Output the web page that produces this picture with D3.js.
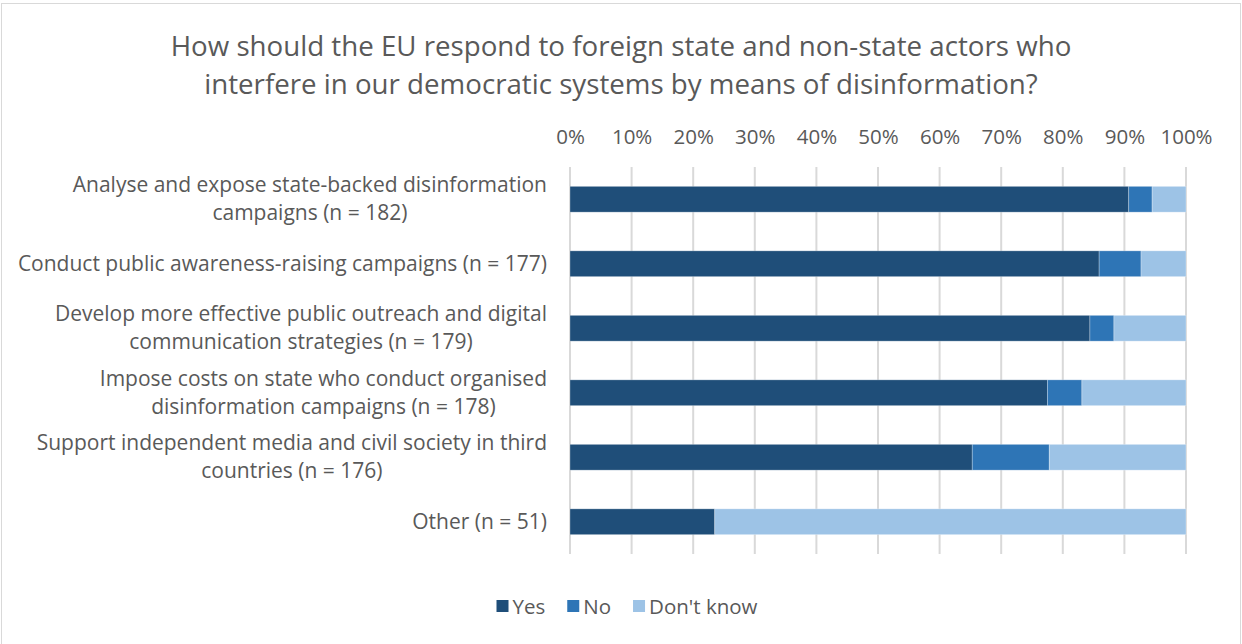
<!DOCTYPE html>
<html><head><meta charset="utf-8">
<script src="https://cdn.jsdelivr.net/npm/d3@7"></script>
<style>body{margin:0;background:#fff}svg{display:block}text{font-family:"Open Sans",sans-serif;fill:#595959}</style>
</head><body>
<svg id="c" width="1242" height="644"></svg>
<script>
const categories = [
  ["Analyse and expose state-backed disinformation", "campaigns (n = 182)"],
  ["Conduct public awareness-raising campaigns (n = 177)"],
  ["Develop more effective public outreach and digital", "communication strategies (n = 179)"],
  ["Impose costs on state who conduct organised", "disinformation campaigns (n = 178)"],
  ["Support independent media and civil society in third", "countries (n = 176)"],
  ["Other (n = 51)"]
];
const seriesNames = ["Yes", "No", "Don't know"];
const yes = [90.7, 85.9, 84.4, 77.5, 65.3, 23.5];
const no = [3.8, 6.8, 3.9, 5.6, 12.5, 0];
const dontKnow = [5.5, 7.3, 11.7, 16.9, 22.2, 76.5];
const tickValues = [0,10,20,30,40,50,60,70,80,90,100];
const colors = ["#1f4e79", "#2e75b6", "#9dc3e6"];
const FONT = "'Open Sans',sans-serif";
const FS = 20.5;
const LFS = 21;

const svg = d3.select("#c");
svg.append("rect").attr("x",1.5).attr("y",3.5).attr("width",1239).attr("height",660)
  .attr("fill","#fff").attr("stroke","#d9d9d9");

svg.append("text").attr("x",621).attr("y",56).attr("text-anchor","middle").attr("font-size",27.7)
  .text("How should the EU respond to foreign state and non-state actors who");
svg.append("text").attr("x",621).attr("y",94).attr("text-anchor","middle").attr("font-size",27.7)
  .text("interfere in our democratic systems by means of disinformation?");

const x = d3.scaleLinear().domain([0,100]).range([570,1186]);
const y = d3.scaleBand().domain(d3.range(categories.length)).range([167,554]).paddingInner(0.6).paddingOuter(0.3);

const grid = svg.append("g");
grid.selectAll("line").data(tickValues).join("line")
  .attr("x1",d=>x(d)).attr("x2",d=>x(d)).attr("y1",167).attr("y2",554)
  .attr("stroke","#d9d9d9").attr("stroke-width",2);

const xAxis = svg.append("g").attr("transform","translate(0,144)")
  .call(d3.axisTop(x).tickValues(tickValues).tickFormat(d=>d+"%").tickSize(0).tickPadding(0));
xAxis.select(".domain").remove();
xAxis.selectAll("text").attr("font-size",FS).attr("fill","#595959").style("font-family",FONT);

const data = categories.map((c,i)=>({i, Yes:yes[i], No:no[i], "Don't know":dontKnow[i]}));
const stack = d3.stack().keys(seriesNames)(data);
svg.append("g").selectAll("g").data(stack).join("g").attr("fill",(d,k)=>colors[k])
  .selectAll("rect").data(d=>d).join("rect")
  .attr("x",d=>x(d[0])).attr("width",d=>Math.max(0,x(d[1])-x(d[0])))
  .attr("y",(d,i)=>y(i)).attr("height",y.bandwidth())
  .attr("stroke","#fff").attr("stroke-opacity",0.35).attr("stroke-width",0.8);

const lab = svg.append("g");
categories.forEach((lines,i)=>{
  const cy = y(i)+y.bandwidth()/2;
  const g = lab.append("g");
  const ts = lines.map((t,j)=>g.append("text").attr("font-size",LFS).attr("text-anchor","middle")
    .attr("y", cy + (j-(lines.length-1)/2)*28 + 7).text(t));
  const w = d3.max(ts, t=>t.node().getComputedTextLength());
  ts.forEach(t=>t.attr("x", 547 - w/2));
});

const leg = svg.append("g");
let lx = 0;
seriesNames.forEach((s,k)=>{
  leg.append("rect").attr("x",lx).attr("y",600).attr("width",12).attr("height",12).attr("fill",colors[k]);
  const t = leg.append("text").attr("x",lx+16).attr("y",613.5).attr("font-size",FS).text(s);
  lx += 16 + t.node().getComputedTextLength() + (k<seriesNames.length-1 ? 22 : 0);
});
leg.attr("transform",`translate(${627 - lx/2},0)`);
</script>
</body></html>
